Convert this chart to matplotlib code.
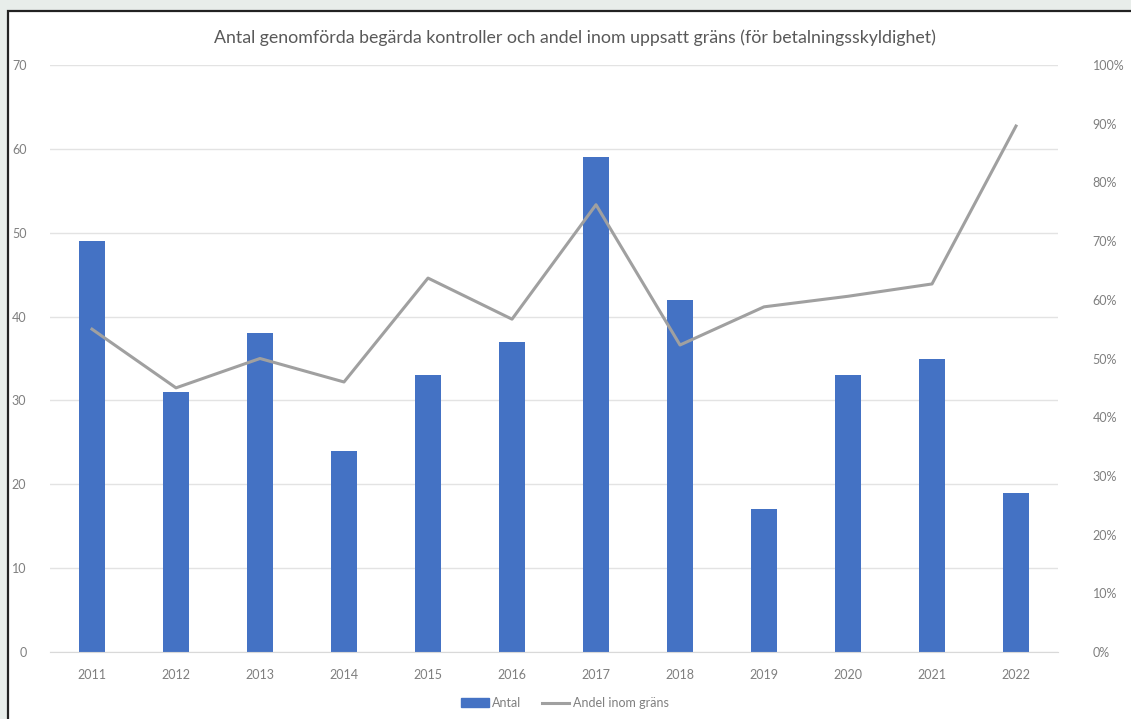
import matplotlib.pyplot as plt
from matplotlib.patches import Rectangle
from matplotlib.lines import Line2D
import numpy as np

years = ['2011', '2012', '2013', '2014', '2015', '2016',
         '2017', '2018', '2019', '2020', '2021', '2022']
antal = [49, 31, 38, 24, 33, 37, 59, 42, 17, 33, 35, 19]
andel = [0.55, 0.45, 0.50, 0.46, 0.637, 0.567, 0.762, 0.523, 0.588, 0.606, 0.627, 0.896]

plt.rcParams['font.family'] = ['Lato', 'DejaVu Sans']
txt = '#7f7f7f'

fig = plt.figure(figsize=(11.31, 7.19), dpi=100, facecolor='#e8edea')
# white chart frame behind the axes
fig.patches.append(Rectangle((7.5 / 1131, -0.1), 1.2, 1.1 - 11.5 / 719,
                             transform=fig.transFigure, facecolor='white',
                             edgecolor='#222222', linewidth=1.6, zorder=-10))

ax = fig.add_axes([50 / 1131, 1 - 652 / 719, 1008 / 1131, 587 / 719])
ax.set_facecolor('none')
x = np.arange(len(years))
ax.bar(x, antal, width=0.32, color='#4472c4', zorder=2)
ax.set_xlim(-0.5, len(years) - 0.5)
ax.set_ylim(0, 70)
ax.set_yticks(range(0, 71, 10))
ax.set_xticks(x)
ax.set_xticklabels(years)
ax.grid(axis='y', color='#e3e3e3', linewidth=1, zorder=0)
ax.set_axisbelow(True)
for s in ax.spines.values():
    s.set_visible(False)
ax.spines['bottom'].set_visible(True)
ax.spines['bottom'].set_color('#d9d9d9')
ax.tick_params(axis='both', length=0, colors=txt, labelsize=9)
ax.tick_params(axis='y', pad=17)
ax.tick_params(axis='x', pad=12)

ax2 = ax.twinx()
ax2.plot(x, andel, color='#a0a0a0', linewidth=2.2, zorder=3)
ax2.set_ylim(0, 1)
ax2.set_yticks(np.arange(0, 1.01, 0.1))
ax2.set_yticklabels([f'{int(round(v * 100))}%' for v in np.arange(0, 1.01, 0.1)])
for s in ax2.spines.values():
    s.set_visible(False)
ax2.tick_params(axis='y', length=0, colors=txt, labelsize=9, pad=25)

fig.text(575 / 1131, 1 - 38 / 719,
         'Antal genomförda begärda kontroller och andel inom uppsatt gräns (för betalningsskyldighet)',
         ha='center', va='center', fontsize=12.8, color='#595959')

handles = [Rectangle((0, 0), 1, 1, color='#4472c4'),
           Line2D([], [], color='#a0a0a0', linewidth=2.2)]
fig.legend(handles, ['Antal', 'Andel inom gräns'], loc='center',
           bbox_to_anchor=(565 / 1131, 1 - 703 / 719), ncol=2, frameon=False,
           fontsize=9, labelcolor=txt, handlelength=2.2, handletextpad=0.3,
           columnspacing=1.6)

fig.savefig('out.png', dpi=100, facecolor=fig.get_facecolor())
